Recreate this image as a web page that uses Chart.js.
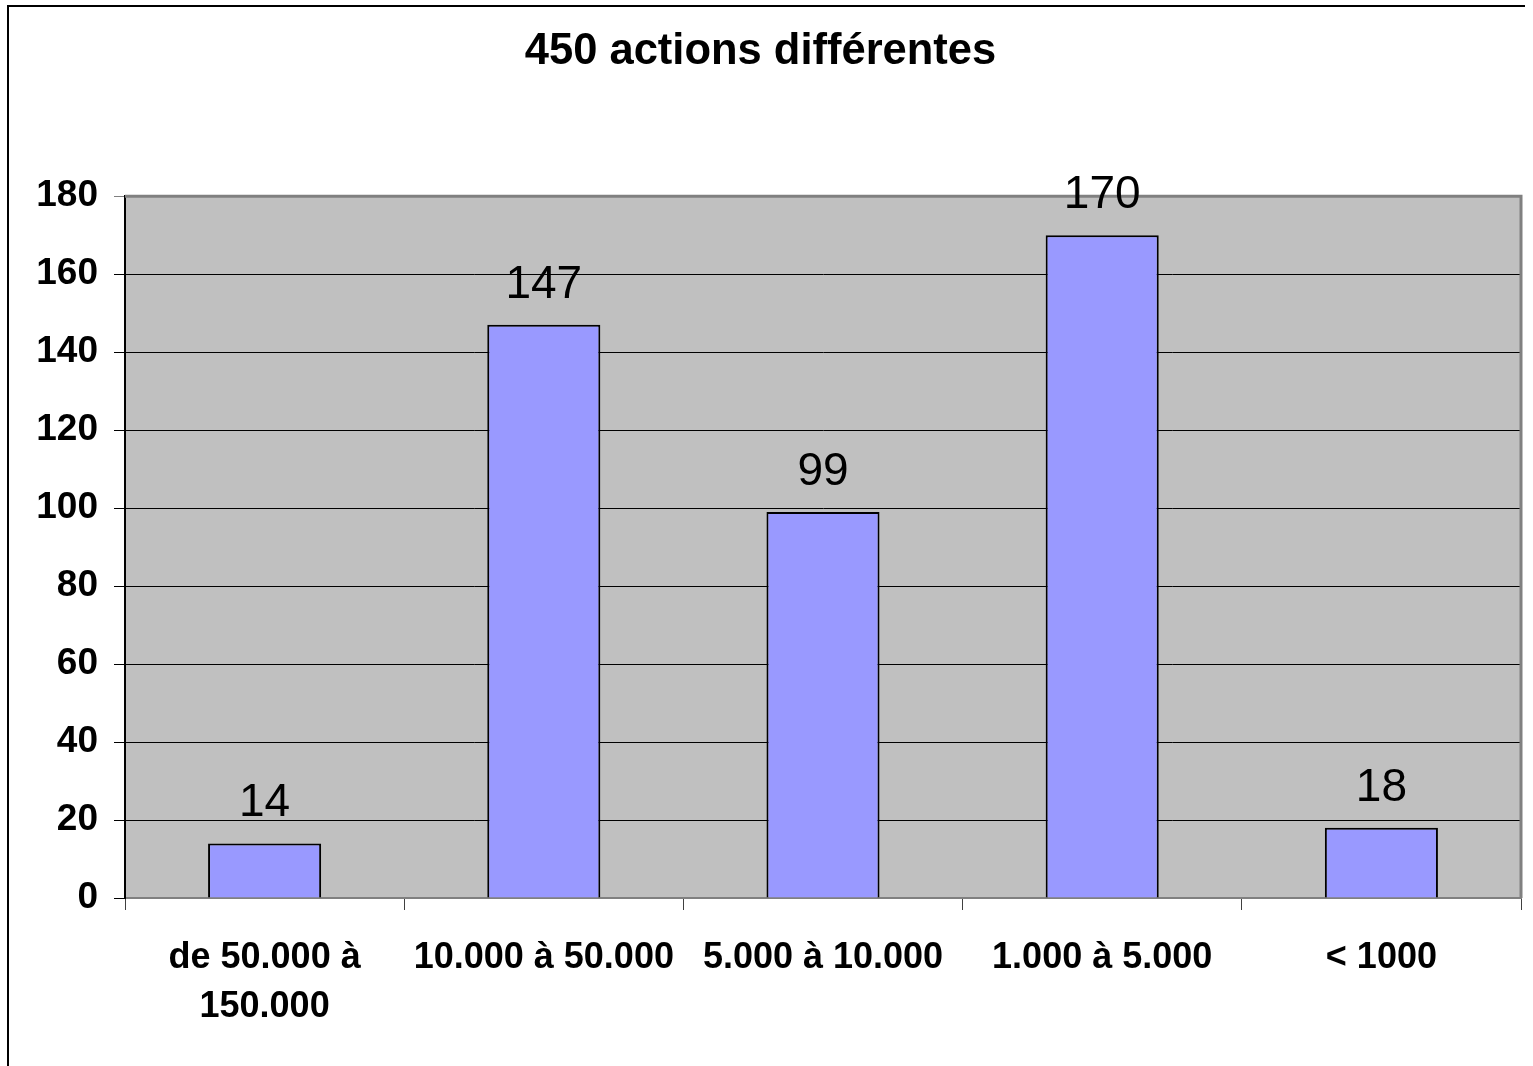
<!DOCTYPE html>
<html>
<head>
<meta charset="utf-8">
<script src="https://cdn.jsdelivr.net/npm/chart.js@4/dist/chart.umd.min.js"></script>
<style>
  html, body { margin: 0; padding: 0; background: #fff; overflow: hidden; }
  #wrap { position: relative; width: 1533px; height: 1066px; }
  #frame { position: absolute; left: 7px; top: 5px; width: 1518px; height: 1070px;
           border-left: 2px solid #000; border-top: 2px solid #000; box-sizing: border-box; pointer-events: none; }
  canvas { position: absolute; left: 0; top: 0; }
</style>
</head>
<body>
<div id="wrap">
  <canvas id="c" width="1533" height="1066"></canvas>
  <div id="frame"></div>
</div>
<script>
const chartTitle = "450 actions différentes";
const categories = [["de 50.000 à", "150.000"], "10.000 à 50.000", "5.000 à 10.000", "1.000 à 5.000", "< 1000"];
const values = [14, 147, 99, 170, 18];
const yMin = 0, yMax = 180, yStep = 20;

const FONT = "'Liberation Sans', Arial, sans-serif";

const plotBg = {
  id: 'plotBg',
  beforeDraw(chart) {
    const { ctx, chartArea: a } = chart;
    ctx.save();
    ctx.fillStyle = '#C0C0C0';
    ctx.fillRect(a.left, a.top, a.right - a.left, a.bottom - a.top);
    ctx.restore();
  },
  afterDatasetsDraw(chart) {
    const { ctx, chartArea: a } = chart;
    ctx.save();
    ctx.strokeStyle = '#808080';
    ctx.lineWidth = 3;
    ctx.beginPath();
    ctx.moveTo(a.left, a.top);
    ctx.lineTo(a.right, a.top);
    ctx.lineTo(a.right, a.bottom);
    ctx.stroke();
    // value labels
    const meta = chart.getDatasetMeta(0);
    ctx.fillStyle = '#000';
    ctx.font = "46px " + FONT;
    ctx.textAlign = 'center';
    ctx.textBaseline = 'alphabetic';
    meta.data.forEach((bar, i) => {
      ctx.fillText(String(values[i]), bar.x, bar.y - 27);
    });
    ctx.restore();
  }
};

new Chart(document.getElementById('c'), {
  type: 'bar',
  data: {
    labels: categories,
    datasets: [{
      data: values,
      backgroundColor: '#9999FF',
      borderColor: '#000000',
      borderWidth: 2,
      barPercentage: 0.405,
      categoryPercentage: 1.0
    }]
  },
  options: {
    responsive: false,
    animation: false,
    devicePixelRatio: 1,
    layout: { padding: { left: 0, right: 12, top: 0, bottom: 0 } },
    plugins: {
      legend: { display: false },
      tooltip: { enabled: false },
      title: {
        display: true,
        text: chartTitle,
        color: '#000',
        font: { family: FONT, size: 43.5, weight: 'bold', lineHeight: 1.2 },
        padding: { top: 26, bottom: 118 }
      }
    },
    scales: {
      x: {
        offset: true,
        grid: { offset: true, drawOnChartArea: false, drawTicks: true, tickLength: 12, color: '#404040', lineWidth: 1 },
        border: { display: true, color: '#808080', width: 2 },
        ticks: {
          color: '#000',
          font: { family: FONT, size: 36, weight: 'bold', lineHeight: 1.35 },
          padding: 24,
          maxRotation: 0, autoSkip: false
        },
        afterFit(scale) { scale.height = 168; }
      },
      y: {
        min: yMin, max: yMax,
        grid: {
          color: (c) => (c.tick && c.tick.value === yMax) ? '#808080' : '#000000',
          lineWidth: 1,
          tickLength: 11,
          drawTicks: true
        },
        border: { display: true, color: '#000', width: 2 },
        ticks: {
          stepSize: yStep,
          color: '#000',
          font: { family: FONT, size: 37, weight: 'bold' },
          padding: 16
        },
        afterFit(scale) { scale.width = 125; }
      }
    }
  },
  plugins: [plotBg]
});
</script>
</body>
</html>
